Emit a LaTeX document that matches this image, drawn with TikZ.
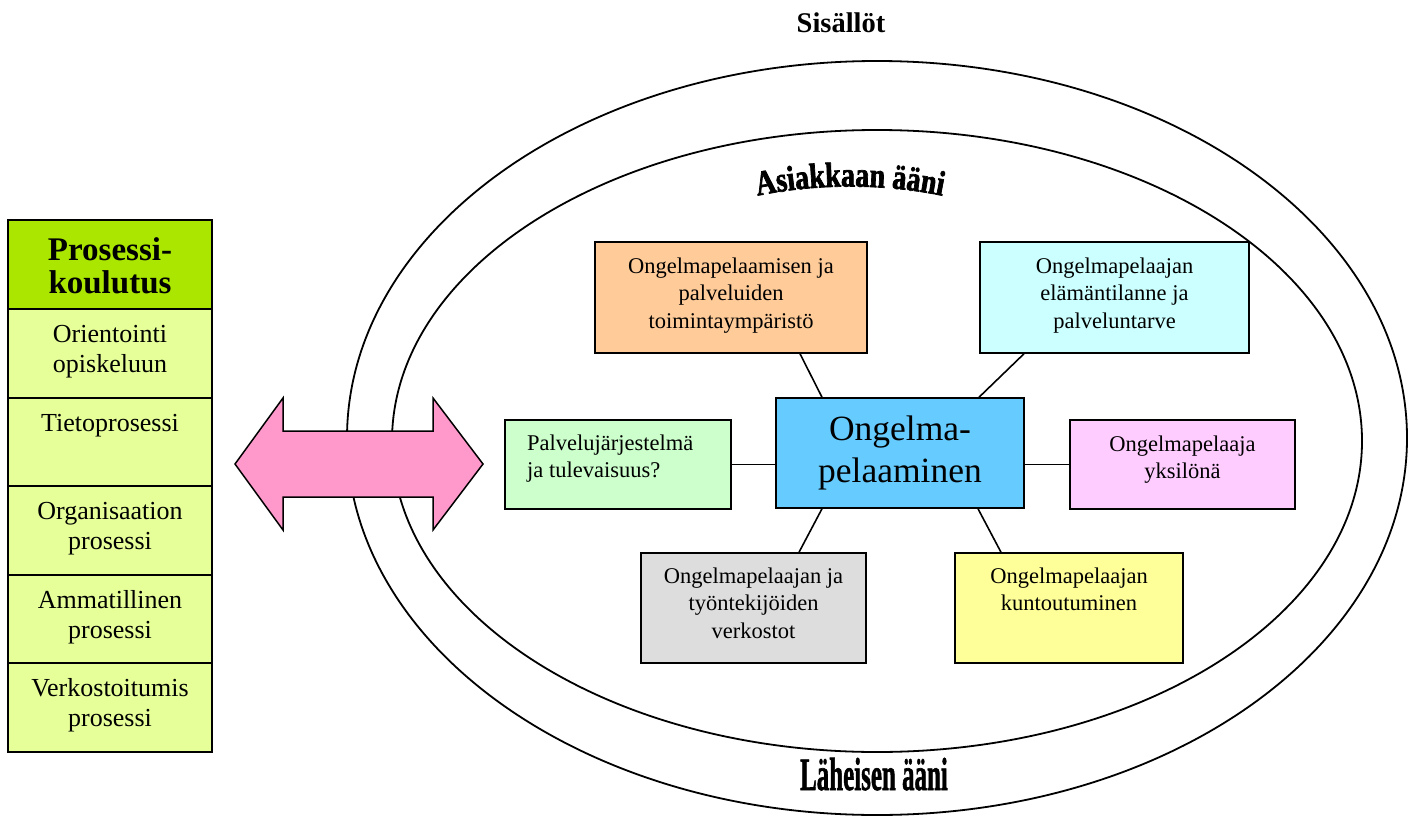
\documentclass[tikz,border=0pt]{standalone}
\usepackage{fontspec}
\usepackage{graphicx}
\setmainfont{Liberation Serif}
\newfontfamily\wafont[FakeStretch=0.8, FakeBold=2]{Liberation Serif}
\newfontfamily\lafont[FakeBold=1.5]{Liberation Serif}
\usetikzlibrary{decorations.text}
\definecolor{hdrgreen}{RGB}{170,230,0}
\definecolor{rowgreen}{RGB}{230,255,153}
\definecolor{orangebox}{HTML}{FFCC99}
\definecolor{cyanbox}{HTML}{CCFFFF}
\definecolor{greenbox}{HTML}{CCFFCC}
\definecolor{bluebox}{HTML}{66CCFF}
\definecolor{pinkbox}{HTML}{FFCCFF}
\definecolor{graybox}{HTML}{DDDDDD}
\definecolor{yellowbox}{HTML}{FFFF99}
\definecolor{arrowpink}{HTML}{FF99CC}
\begin{document}
\begin{tikzpicture}[x=1pt,y=-1pt,
  box/.style={draw=black, line width=1.5pt, inner sep=0pt},
  btxt/.style={anchor=north, align=center, inner sep=0pt, font=\fontsize{22.5}{27.5}\selectfont},
  ltxt/.style={anchor=north west, align=left, inner sep=0pt, font=\fontsize{22.5}{27.5}\selectfont},
  rtxt/.style={anchor=north, align=center, inner sep=0pt, font=\fontsize{26}{30}\selectfont},
  conn/.style={draw=black, line width=1.6pt},
  ring/.style={draw=black, line width=1.8pt}]
\useasboundingbox (0,0) rectangle (1413,816);
\fill[white] (0,0) rectangle (1413,816);

% title
\node[anchor=base, inner sep=0pt, font=\fontsize{28.5}{28.5}\selectfont\bfseries] (title) at (841,33) {Sisällöt};

% ellipses
\draw[ring] (877,438) ellipse [x radius=530pt, y radius=377pt];
\draw[ring] (877,441) ellipse [x radius=485pt, y radius=311pt];

% arrow
\draw[line width=1.5pt, fill=arrowpink, line join=miter]
  (235,464) -- (283,398) -- (283,431) -- (433,431) -- (433,398) -- (483,464)
  -- (433,530) -- (433,497) -- (283,497) -- (283,530) -- cycle;

% curved texts
\path[decorate, decoration={text along path, text align=center,
  text format delimiters={|}{|},
  text={|\wafont\bfseries\fontsize{35}{35}\selectfont|Asiakkaan ääni}}]
  (735,201) .. controls (808,181.7) and (892,181.7) .. (965,201);
\node[anchor=base, inner sep=0pt, font=\fontsize{32}{32}\selectfont\lafont\bfseries] (laheinen) at (874,790)
  {\scalebox{0.78}[1.45]{Läheisen ääni}};

% left column
\node[box, fill=hdrgreen, minimum width=204pt, minimum height=89pt] (hdr) at (110,264.5) {};
\node[anchor=north, align=center, inner sep=0pt, font=\fontsize{33}{33}\selectfont\bfseries] (hdrt)
  at ([yshift=-17.9pt]hdr.north) {\strut Prosessi-\\koulutus};
\node[box, fill=rowgreen, minimum width=204pt, minimum height=89pt] (r1) at (110,353.5) {};
\node[box, fill=rowgreen, minimum width=204pt, minimum height=88pt] (r2) at (110,442) {};
\node[box, fill=rowgreen, minimum width=204pt, minimum height=89pt] (r3) at (110,530.5) {};
\node[box, fill=rowgreen, minimum width=204pt, minimum height=88pt] (r4) at (110,619) {};
\node[box, fill=rowgreen, minimum width=204pt, minimum height=89pt] (r5) at (110,707.5) {};
\node[rtxt] (r1t) at ([yshift=-13pt]r1.north) {\strut Orientointi\\opiskeluun};
\node[rtxt] (r2t) at ([yshift=-13pt]r2.north) {\strut Tietoprosessi};
\node[rtxt] (r3t) at ([yshift=-13pt]r3.north) {\strut Organisaation\\prosessi};
\node[rtxt] (r4t) at ([yshift=-13pt]r4.north) {\strut Ammatillinen\\prosessi};
\node[rtxt] (r5t) at ([yshift=-13pt]r5.north) {\strut Verkostoitumis\\prosessi};

% boxes
\node[box, fill=bluebox, minimum width=248pt, minimum height=110pt] (c) at (900,453) {};
\node[anchor=north, align=center, inner sep=0pt, font=\fontsize{35.5}{42}\selectfont] (ct)
  at ([yshift=-13.6pt]c.north) {\strut Ongelma-\\pelaaminen};

\node[box, fill=orangebox, minimum width=272pt, minimum height=111pt] (or) at (731,297.5) {};
\node[btxt] (ort) at ([yshift=-12.75pt]or.north) {\strut Ongelmapelaamisen ja\\palveluiden\\toimintaympäristö};

\node[box, fill=cyanbox, minimum width=269pt, minimum height=111pt] (cy) at (1114.5,297.5) {};
\node[btxt] (cyt) at ([yshift=-12.75pt]cy.north) {\strut Ongelmapelaajan\\elämäntilanne ja\\palveluntarve};

\node[box, fill=greenbox, minimum width=226pt, minimum height=89pt] (gr) at (618,464.5) {};
\node[ltxt] (grt) at ([xshift=-91pt, yshift=-11.75pt]gr.north) {\strut Palvelujärjestelmä\\ja tulevaisuus?};

\node[box, fill=pinkbox, minimum width=225pt, minimum height=89pt] (pk) at (1182.5,464.5) {};
\node[btxt] (pkt) at ([yshift=-12.75pt]pk.north) {\strut Ongelmapelaaja\\yksilönä};

\node[box, fill=graybox, minimum width=225pt, minimum height=110pt] (gy) at (753.5,608) {};
\node[btxt] (gyt) at ([yshift=-11.75pt]gy.north) {\strut Ongelmapelaajan ja\\työntekijöiden\\verkostot};

\node[box, fill=yellowbox, minimum width=228pt, minimum height=110pt] (yl) at (1069,608) {};
\node[btxt] (ylt) at ([yshift=-11.75pt]yl.north) {\strut Ongelmapelaajan\\kuntoutuminen};

% connectors
\draw[conn] ([xshift=69pt]or.south) -- ([xshift=-78pt]c.north);
\draw[conn] ([xshift=-90.5pt]cy.south) -- ([xshift=79pt]c.north);
\draw[conn] (gr.east) -- (gr.east -| c.west);
\draw[conn] (pk.west -| c.east) -- (pk.west);
\draw[conn] ([xshift=-78pt]c.south) -- ([xshift=45.5pt]gy.north);
\draw[conn] ([xshift=78pt]c.south) -- ([xshift=-68pt]yl.north);
\end{tikzpicture}
\end{document}
